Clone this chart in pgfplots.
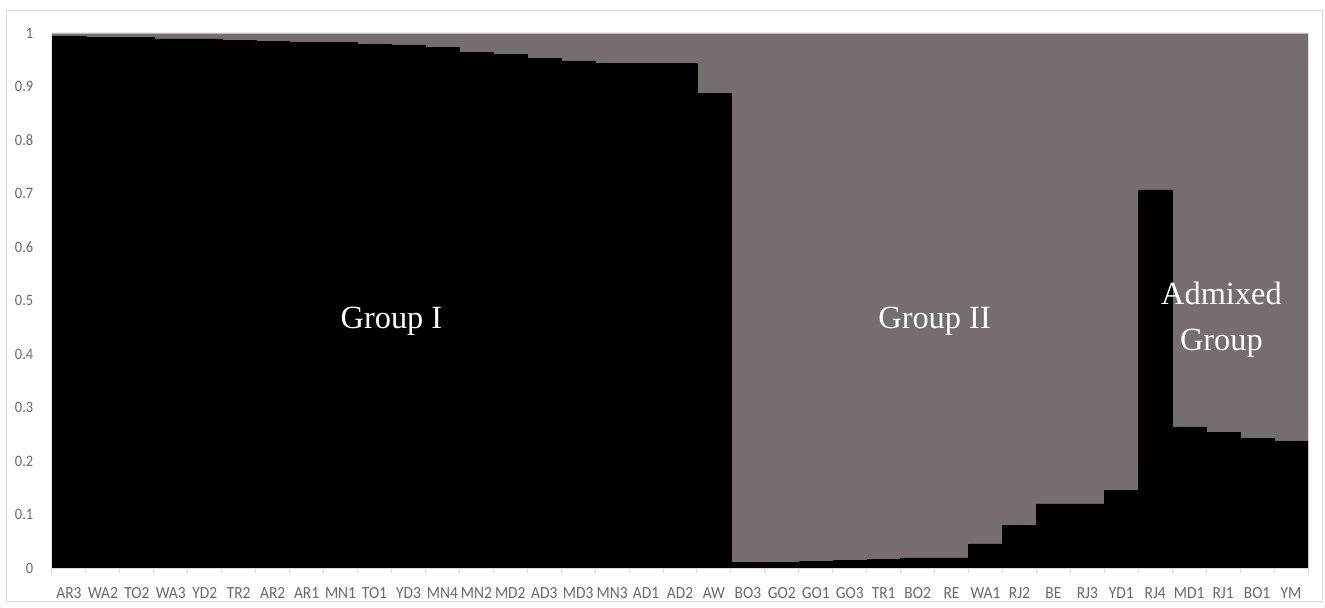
\documentclass[border=0pt]{standalone}
\usepackage{pgfplots}
\usepackage{pgfplotstable}
\usepackage{fontspec}
\pgfplotsset{compat=1.18}
\setmainfont{Liberation Serif}
\newfontfamily\labelfont{Carlito}
\definecolor{clusterB}{RGB}{118,110,110}
\definecolor{ticktext}{RGB}{105,105,105}
\definecolor{frameline}{RGB}{217,217,217}

% membership coefficients: q1 = cluster 1 (black), q2 = cluster 2 (grey)
\pgfplotstableread{
idx name q1    q2
1   AR3  0.995 0.005
2   WA2  0.992 0.008
3   TO2  0.992 0.008
4   WA3  0.989 0.011
5   YD2  0.989 0.011
6   TR2  0.986 0.014
7   AR2  0.984 0.016
8   AR1  0.982 0.018
9   MN1  0.982 0.018
10  TO1  0.979 0.021
11  YD3  0.978 0.022
12  MN4  0.973 0.027
13  MN2  0.964 0.036
14  MD2  0.960 0.040
15  AD3  0.953 0.047
16  MD3  0.948 0.052
17  MN3  0.943 0.057
18  AD1  0.943 0.057
19  AD2  0.943 0.057
20  AW   0.887 0.113
21  BO3  0.010 0.990
22  GO2  0.010 0.990
23  GO1  0.012 0.988
24  GO3  0.014 0.986
25  TR1  0.016 0.984
26  BO2  0.019 0.981
27  RE   0.019 0.981
28  WA1  0.045 0.955
29  RJ2  0.080 0.920
30  BE   0.120 0.880
31  RJ3  0.120 0.880
32  YD1  0.145 0.855
33  RJ4  0.707 0.293
34  MD1  0.264 0.736
35  RJ1  0.254 0.746
36  BO1  0.242 0.758
37  YM   0.238 0.762
}\structuredata

\tikzset{grouplabel/.style={text=white, font=\fontsize{32.5}{46}\selectfont, align=center}}

\begin{document}
\begin{tikzpicture}
\useasboundingbox (-52bp,-40bp) rectangle (1273bp,568bp);
% chart area frame
\draw[frameline, line width=1bp] (-45bp,-33bp) rectangle (1270bp,557bp);
\begin{axis}[
  at={(0,0)}, anchor=south west,
  scale only axis,
  width=1256bp, height=535bp,
  ybar stacked, bar width=1, bar shift=0pt,
  xmin=0.5, xmax=37.5, ymin=0, ymax=1,
  enlarge x limits=false, enlarge y limits=false,
  axis lines*=left,
  y axis line style={draw=none},
  x axis line style={draw=frameline, line width=1bp},
  xtick={1,...,37},
  xticklabels={AR3,WA2,TO2,WA3,YD2,TR2,AR2,AR1,MN1,TO1,YD3,MN4,MN2,MD2,AD3,MD3,MN3,AD1,AD2,AW,BO3,GO2,GO1,GO3,TR1,BO2,RE,WA1,RJ2,BE,RJ3,YD1,RJ4,MD1,RJ1,BO1,YM},
  minor xtick={0.5,1.5,...,37.5},
  major x tick style={draw=none},
  minor x tick style={draw=frameline, line width=1bp},
  minor tick length=5bp,
  tick align=outside,
  ytick={0,0.1,0.2,0.3,0.4,0.5,0.6,0.7,0.8,0.9,1},
  major y tick style={draw=none},
  /pgf/number format/assume math mode=true,
  ticklabel style={font=\labelfont\fontsize{15.5}{17}\selectfont, text=ticktext},
  yticklabel style={font=\labelfont\fontsize{14.5}{16}\selectfont, yscale=1.1, xshift=-11bp},
  xticklabel style={yscale=1.1, yshift=-10bp},
  % group captions and the top rule go on top of the stacked bars
  after end axis/.append code={
    \draw[frameline!70!clusterB, line width=0.8bp] (axis cs:0.5,1) -- (axis cs:37.5,1);
    \node[grouplabel] at (axis cs:10.5,0.462) {Group I};
    \node[grouplabel] at (axis cs:26.5,0.462) {Group II};
    \node[grouplabel] at (axis cs:34.95,0.464) {Admixed\\Group};
  },
]
\addplot+[fill=black, draw=black, line width=0.3bp] table[x=idx, y=q1] {\structuredata};
\addplot+[fill=clusterB, draw=clusterB, line width=0.3bp] table[x=idx, y=q2] {\structuredata};
\end{axis}
\end{tikzpicture}
\end{document}
